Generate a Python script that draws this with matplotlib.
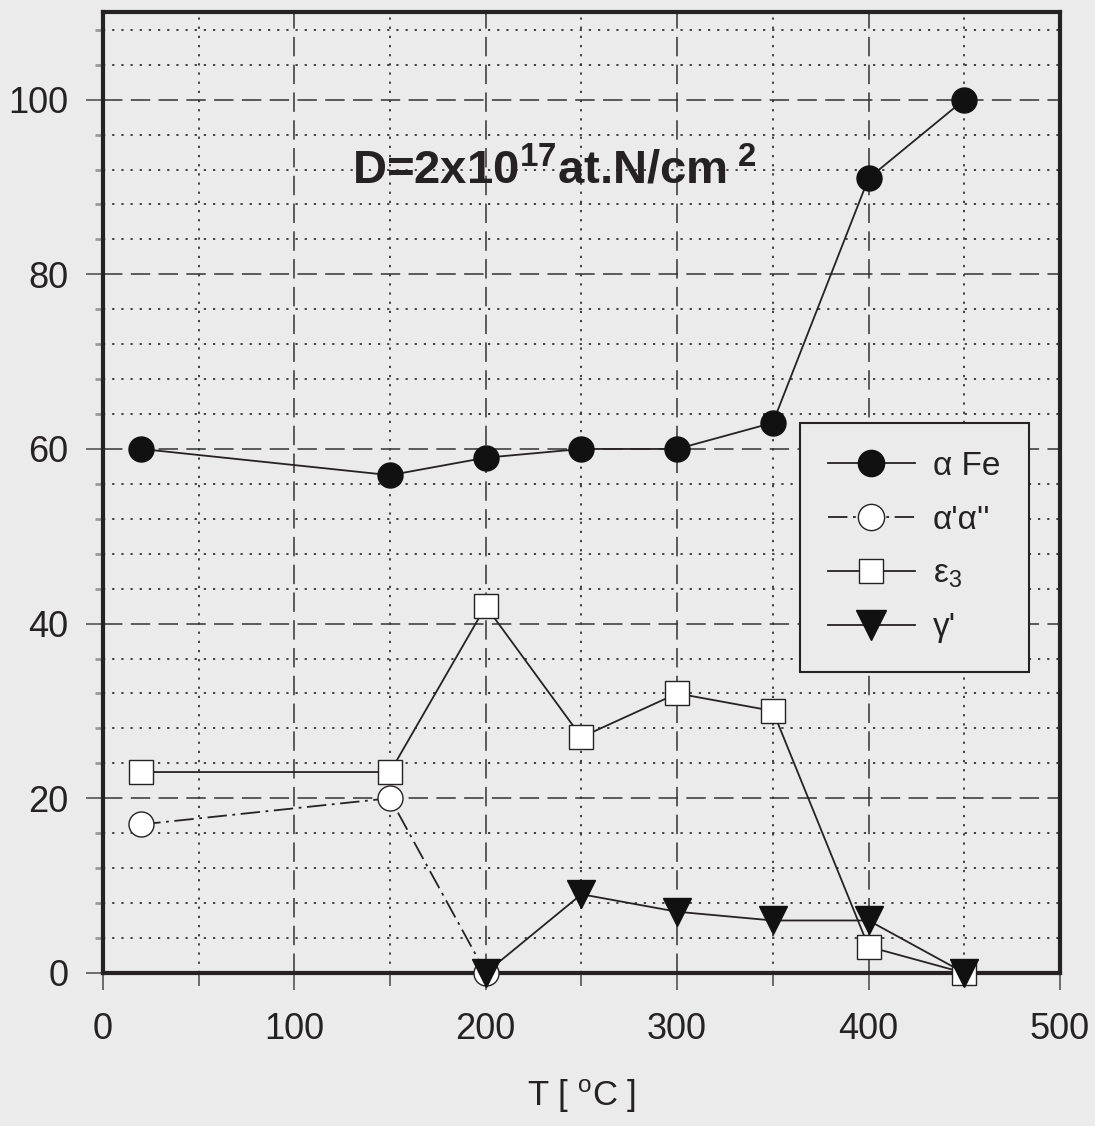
import numpy as np
import matplotlib
matplotlib.use("Agg")
import matplotlib.pyplot as plt
from matplotlib.ticker import MultipleLocator

plt.rcParams['font.family'] = ['Liberation Sans', 'DejaVu Sans']
plt.rcParams['mathtext.fontset'] = 'custom'
plt.rcParams['mathtext.rm'] = 'Liberation Sans'
plt.rcParams['mathtext.it'] = 'Liberation Sans'
plt.rcParams['mathtext.bf'] = 'Liberation Sans:bold'
plt.rcParams['lines.scale_dashes'] = False

# data
t_fe = [20, 150, 200, 250, 300, 350, 400, 450]
alpha_fe = [60, 57, 59, 60, 60, 63, 91, 100]

t_aa = [20, 150, 200]
alpha_aa = [17, 20, 0]

t_eps = [20, 150, 200, 250, 300, 350, 400, 450]
eps3 = [23, 23, 42, 27, 32, 30, 3, 0]

t_gam = [200, 250, 300, 350, 400, 450]
gamma = [0, 9, 7, 6, 6, 0]

labels = ["α Fe", "α'α''", "ε$_{3}$", "γ'"]

bg = "#ebebeb"
ink = "#262223"

fig = plt.figure(figsize=(10.95, 11.26), dpi=100, facecolor=bg)
ax = fig.add_axes([0.094, 0.136, 0.874, 0.853])
ax.set_facecolor(bg)

ax.set_xlim(0, 500)
ax.set_ylim(0, 110)

ax.xaxis.set_major_locator(MultipleLocator(100))
ax.xaxis.set_minor_locator(MultipleLocator(50))
ax.yaxis.set_major_locator(MultipleLocator(20))
ax.yaxis.set_minor_locator(MultipleLocator(4))

ax.grid(True, which="major", color="#333333", linestyle=(0, (14, 6)), linewidth=1.1)
ax.grid(True, which="minor", color="#333333", linestyle=(0, (1.6, 5)), linewidth=1.3)
ax.set_axisbelow(True)

for s in ax.spines.values():
  s.set_linewidth(3.0)
  s.set_color(ink)

ax.tick_params(which="major", direction="out", length=12, width=1.2, color="#555555",
               labelsize=26, labelcolor=ink)
ax.tick_params(axis="x", which="major", pad=16)
ax.tick_params(axis="y", which="major", pad=13)
ax.tick_params(which="minor", direction="out", length=6, width=2, color="#999999")
ax.tick_params(axis="x", which="minor", length=9, width=1.2, color="#555555")

ax.plot(t_fe, alpha_fe, "-o", color=ink, linewidth=1.3, markersize=18,
        markerfacecolor="#111111", markeredgecolor="#111111", label=labels[0], zorder=5)
ax.plot(t_aa, alpha_aa, marker="o", linestyle=(0, (14, 4, 2, 4)), color=ink, linewidth=1.3,
        markersize=18, markerfacecolor="white", markeredgecolor=ink, label=labels[1], zorder=4)
ax.plot(t_eps, eps3, "-s", color=ink, linewidth=1.3, markersize=17,
        markerfacecolor="white", markeredgecolor=ink, label=labels[2], zorder=4)
ax.plot(t_gam, gamma, "-v", color=ink, linewidth=1.3, markersize=20,
        markerfacecolor="#111111", markeredgecolor="#111111", label=labels[3], zorder=6)

for ln in ax.lines:
  ln.set_clip_on(False)

ax.text(130, 90.3, r"D=2x10$^{\mathbf{17}}$at.N/cm$^{\mathbf{\ 2}}$", fontsize=34,
        fontweight="bold", color=ink, ha="left", va="baseline")

ax.set_xlabel(r"T [ $^{\mathrm{o}}$C ]", fontsize=25, color=ink, labelpad=22)

leg = ax.legend(loc="upper left", bbox_to_anchor=(0.728, 0.573), fontsize=24,
                frameon=True, fancybox=False, edgecolor=ink, facecolor=bg,
                framealpha=1, handlelength=2.6, labelspacing=0.68,
                borderpad=0.85, handletextpad=0.55, borderaxespad=0,
                markerscale=1.05)
leg.get_frame().set_linewidth(1.5)
for t in leg.get_texts():
  t.set_color(ink)

fig.savefig("out.png", dpi=100, facecolor=bg)
